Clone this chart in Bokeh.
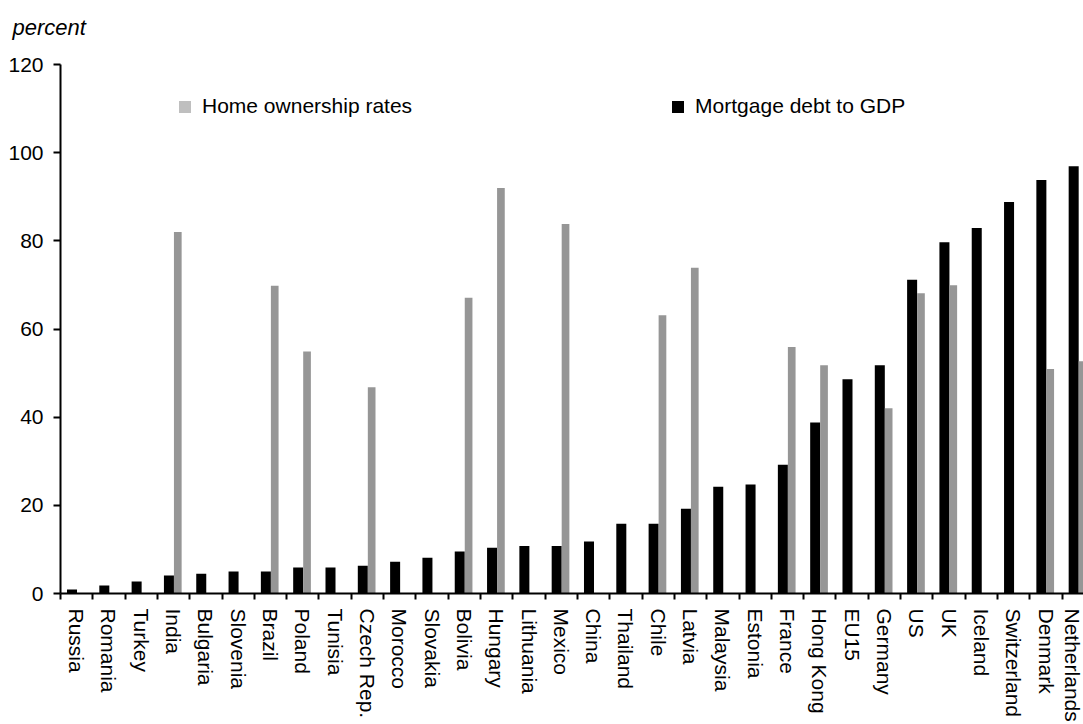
import math
import numpy as np
from bokeh.plotting import figure
from bokeh.models import Range1d, FixedTicker, Legend, LegendItem, ColumnDataSource, Title
from bokeh.embed import file_html
from bokeh.resources import INLINE

# ---- data ----
countries = ["Russia", "Romania", "Turkey", "India", "Bulgaria", "Slovenia", "Brazil",
             "Poland", "Tunisia", "Czech Rep.", "Morocco", "Slovakia", "Bolivia", "Hungary",
             "Lithuania", "Mexico", "China", "Thailand", "Chile", "Latvia", "Malaysia",
             "Estonia", "France", "Hong Kong", "EU15", "Germany", "US", "UK", "Iceland",
             "Switzerland", "Denmark", "Netherlands"]
mortgage_debt = [0.9, 1.8, 2.7, 4.1, 4.5, 5.0, 5.0, 5.9, 5.9, 6.3, 7.2, 8.1, 9.5, 10.4,
                 10.8, 10.8, 11.8, 15.8, 15.8, 19.2, 24.2, 24.7, 29.2, 38.8, 48.6, 51.8,
                 71.2, 79.7, 82.9, 88.8, 93.8, 96.9]
home_ownership = [None, None, None, 82.0, None, None, 69.8, 54.9, None, 46.8, None, None,
                  67.1, 92.0, None, 83.8, None, None, 63.1, 73.9, None, None, 55.9, 51.8,
                  None, 42.0, 68.1, 69.9, None, None, 50.9, 52.7]
y_ticks = [0, 20, 40, 60, 80, 100, 120]
series_names = ["Home ownership rates", "Mortgage debt to GDP"]
unit_label = "percent"

FONT = "Liberation Sans"
FS = "21px"
n = len(countries)
idx = np.arange(n)

p = figure(width=1083, height=724, output_backend="svg", toolbar_location=None, title=None,
           x_range=Range1d(0, 31.66), y_range=Range1d(0, 120),
           min_border_left=60, min_border_right=0, min_border_top=64, min_border_bottom=128)
p.outline_line_color = None
p.xgrid.visible = False
p.ygrid.visible = False

# spacer between frame and unit label, then the unit label itself
p.add_layout(Title(text=" ", text_font=FONT, text_font_size="21px", standoff=0), "above")
p.add_layout(Title(text=unit_label, text_font=FONT, text_font_size="22px", text_font_style="italic",
                   text_color="black", align="left", offset=-48, standoff=0), "above")

black_src = ColumnDataSource(dict(x=idx + 0.356, top=mortgage_debt))
has = [i for i, v in enumerate(home_ownership) if v is not None]
grey_src = ColumnDataSource(dict(x=[i + 0.63 for i in has], top=[home_ownership[i] for i in has]))

r_black = p.vbar(x="x", top="top", bottom=0, width=0.31, source=black_src,
                 fill_color="#000000", line_color=None)
r_grey = p.vbar(x="x", top="top", bottom=0, width=0.238, source=grey_src,
                fill_color="#969696", line_color=None)
# legend swatch for the grey series (lighter in the reference key); zero-height, not visible in plot
r_grey_key = p.vbar(x=[0.63], top=[0], bottom=[0], width=0.238, fill_color="#BFBFBF", line_color=None)

# x axis: boundary ticks (minor), labels at category centres (major)
xa = p.xaxis[0]
xa.ticker = FixedTicker(ticks=[float(i) + 0.5 for i in idx], minor_ticks=[float(i) for i in idx])
xa.major_label_overrides = {float(i) + 0.5: c for i, c in enumerate(countries)}
xa.major_tick_out = 0
xa.major_tick_in = 0
xa.minor_tick_out = 6
xa.minor_tick_in = 0
xa.minor_tick_line_color = "black"
xa.minor_tick_line_width = 2
xa.axis_line_width = 2
xa.axis_line_color = "black"
xa.major_label_orientation = -math.pi / 2
xa.major_label_standoff = 9
xa.major_label_text_font = FONT
xa.major_label_text_font_size = FS
xa.major_label_text_color = "black"

ya = p.yaxis[0]
ya.ticker = FixedTicker(ticks=y_ticks, minor_ticks=[])
ya.major_tick_out = 7
ya.major_tick_in = 0
ya.major_tick_line_width = 2
ya.major_tick_line_color = "black"
ya.minor_tick_out = 0
ya.minor_tick_in = 0
ya.axis_line_width = 2
ya.axis_line_color = "black"
ya.major_label_standoff = 10
ya.major_label_text_font = FONT
ya.major_label_text_font_size = FS
ya.major_label_text_color = "black"

legend = Legend(items=[LegendItem(label=series_names[0], renderers=[r_grey_key]),
                       LegendItem(label=series_names[1], renderers=[r_black])],
                orientation="horizontal", location=(117, 475), spacing=258,
                glyph_width=15, glyph_height=15, label_standoff=10, padding=0, margin=0,
                border_line_color=None, background_fill_alpha=0,
                label_text_font=FONT, label_text_font_size=FS, label_text_color="black")
p.add_layout(legend)

open("out.html", "w").write(file_html(p, INLINE))
